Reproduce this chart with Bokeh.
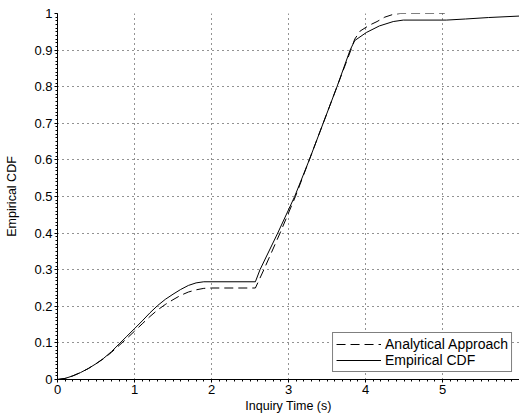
from bokeh.plotting import figure
from bokeh.models import Range1d, Legend, LegendItem, SingleIntervalTicker, Label
from bokeh.embed import file_html
from bokeh.resources import INLINE

# Empirical CDF (solid)
emp_x = [0, 0.1, 0.2, 0.3, 0.4, 0.5, 0.6, 0.7, 0.8, 0.9, 1.0, 1.1, 1.2, 1.3, 1.4, 1.5, 1.6, 1.7, 1.8, 1.9,
         2.57, 2.63, 2.86, 3.08, 3.27, 3.45, 3.63, 3.80, 3.86, 4.01, 4.18, 4.36, 4.49, 5.05, 5.3, 5.6, 6.0]
emp_y = [0, 0.003, 0.01, 0.019, 0.03, 0.043, 0.058, 0.076, 0.097, 0.118, 0.139, 0.16, 0.182, 0.202, 0.219,
         0.233, 0.246, 0.257, 0.264, 0.267,
         0.267, 0.3, 0.4, 0.5, 0.6, 0.7, 0.8, 0.9, 0.926, 0.948, 0.966, 0.978, 0.982, 0.982, 0.985, 0.989, 0.993]

# Analytical approach (dashed)
ana_x = [0, 0.1, 0.2, 0.3, 0.4, 0.5, 0.6, 0.7, 0.8, 0.9, 1.0, 1.1, 1.2, 1.3, 1.4, 1.5, 1.6, 1.7, 1.8, 1.9, 2.0,
         2.57, 2.68, 2.89, 3.09, 3.27, 3.45, 3.63, 3.81, 3.86, 3.93, 4.05, 4.15, 4.25, 4.35, 4.45, 5.03]
ana_y = [0, 0.003, 0.01, 0.019, 0.03, 0.043, 0.057, 0.074, 0.093, 0.112, 0.132, 0.152, 0.172, 0.19, 0.205,
         0.218, 0.23, 0.239, 0.245, 0.249, 0.25,
         0.25, 0.3, 0.4, 0.5, 0.6, 0.7, 0.8, 0.9, 0.93, 0.952, 0.968, 0.978, 0.99, 0.997, 1.0, 1.0]

x_ticks = [0, 1, 2, 3, 4, 5, 6]
y_ticks = [0, 0.1, 0.2, 0.3, 0.4, 0.5, 0.6, 0.7, 0.8, 0.9, 1]
last_x_label = "6"

FONT = "Liberation Sans"

p = figure(width=519, height=416, output_backend="svg", toolbar_location=None,
           x_range=Range1d(x_ticks[0], x_ticks[-1]), y_range=Range1d(y_ticks[0], y_ticks[-1]),
           min_border_left=57, min_border_right=0, min_border_top=13, min_border_bottom=37)
p.outline_line_color = None
p.background_fill_color = "white"
p.border_fill_color = "white"

for ax in (p.xaxis[0], p.yaxis[0]):
    ax.axis_line_color = "black"
    ax.axis_line_width = 1
    ax.major_tick_line_color = "black"
    ax.minor_tick_line_color = "black"
    ax.major_tick_out = 3
    ax.major_tick_in = 0
    ax.minor_tick_out = 2
    ax.minor_tick_in = 0
    ax.major_label_text_font = FONT
    ax.major_label_text_font_size = "13px"
    ax.major_label_text_color = "black"
    ax.axis_label_text_font = FONT
    ax.axis_label_text_font_size = "12.5px"
    ax.axis_label_text_font_style = "normal"
    ax.axis_label_text_color = "black"

p.xaxis.ticker = SingleIntervalTicker(interval=1, num_minor_ticks=10)
p.yaxis.ticker = SingleIntervalTicker(interval=0.1, num_minor_ticks=10)
p.xaxis.major_label_overrides = {6: ""}
p.yaxis.major_label_overrides = {0: "0", 1: "1", 1.0: "1"}
p.xaxis.axis_label = "Inquiry Time (s)"
p.yaxis.axis_label = "Empirical CDF"
p.xaxis.major_label_standoff = 2
p.yaxis.major_label_standoff = 2
p.xaxis.axis_label_standoff = 2
p.yaxis.axis_label_standoff = 12

p.add_layout(Label(x=x_ticks[-1], y=y_ticks[0], text=last_x_label, text_align="center",
                   text_baseline="top", y_offset=-5, text_font=FONT, text_font_size="13px",
                   text_color="black"))

for g in (p.xgrid[0], p.ygrid[0]):
    g.grid_line_color = "black"
    g.grid_line_alpha = 0.85
    g.grid_line_dash = "1 4"
    g.grid_line_width = 1

r_ana = p.line(ana_x, ana_y, line_color="black", line_width=1, line_dash="9 5")
r_emp = p.line(emp_x, emp_y, line_color="black", line_width=1)

legend = Legend(items=[LegendItem(label="Analytical Approach", renderers=[r_ana]),
                       LegendItem(label="Empirical CDF", renderers=[r_emp])],
                location="bottom_right")
legend.margin = 7
legend.padding = 3
legend.spacing = 0
legend.glyph_width = 45
legend.glyph_height = 14
legend.label_height = 14
legend.label_standoff = 4
legend.label_text_font = FONT
legend.label_text_font_size = "14px"
legend.label_text_color = "black"
legend.border_line_color = "black"
legend.border_line_width = 1
legend.background_fill_color = "white"
legend.background_fill_alpha = 1
p.add_layout(legend)

open("out.html", "w").write(file_html(p, INLINE))
